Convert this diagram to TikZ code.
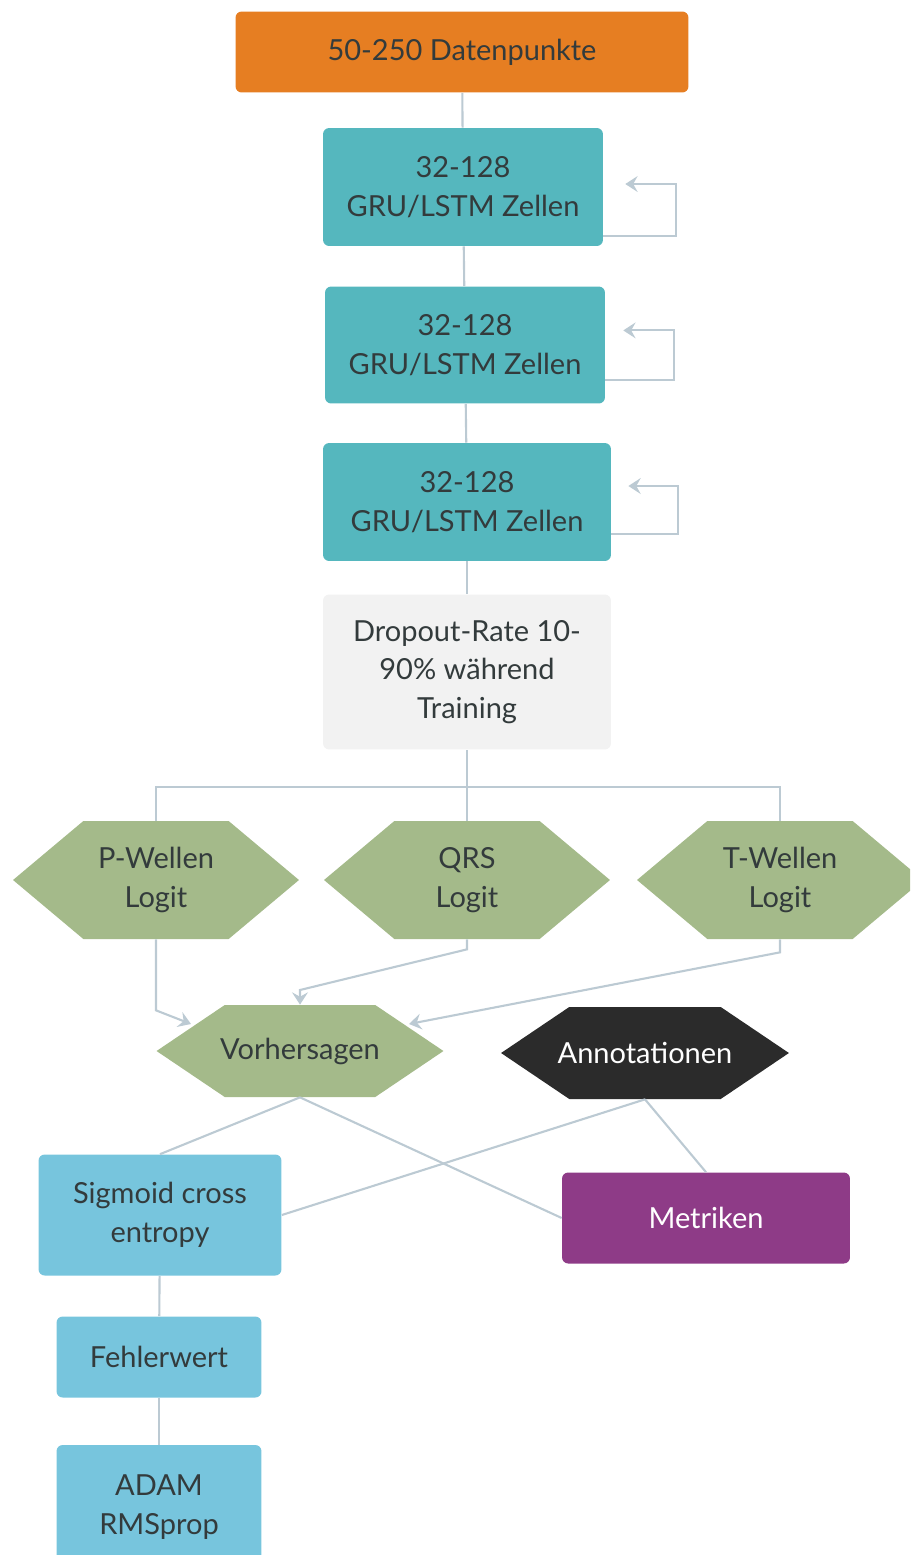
\documentclass[tikz,border=0pt]{standalone}
\usepackage{fontspec}
\setmainfont{Lato}
\usetikzlibrary{arrows.meta,shapes.symbols}
\definecolor{inkbox}{HTML}{333B3C}
\definecolor{wire}{HTML}{BCCAD3}
\definecolor{orangebox}{HTML}{E67E22}
\definecolor{tealbox}{HTML}{55B7BE}
\definecolor{greybox}{HTML}{F2F2F2}
\definecolor{leaf}{HTML}{A4BA8A}
\definecolor{coal}{HTML}{2B2B2B}
\definecolor{skybox}{HTML}{77C5DD}
\definecolor{plum}{HTML}{8E3B87}

\begin{document}
\begin{tikzpicture}[x=0.02cm,y=-0.02cm,>={Stealth[length=7pt,width=9pt,inset=2.5pt]},
 every node/.style={font=\fontsize{16.5}{22}\selectfont,text=inkbox,align=center,inner sep=0pt},
 box/.style={rounded corners=3.5pt},
 hexa/.style={signal,signal to=east and west,fill=leaf,signal pointer angle=80},
 link/.style={draw=wire,line width=1.2pt}]
\clip (0,0) rectangle (910,1555);
% layers
\node[box,fill=orangebox,minimum width=9.06cm,minimum height=1.62cm] (data) at (462,52) {50-250 Datenpunkte};
\node[box,fill=tealbox,minimum width=5.6cm,minimum height=2.36cm] (gru1) at (463,187) {32-128\\GRU/LSTM Zellen};
\node[box,fill=tealbox,minimum width=5.6cm,minimum height=2.34cm] (gru2) at (465,345) {32-128\\GRU/LSTM Zellen};
\node[box,fill=tealbox,minimum width=5.76cm,minimum height=2.36cm] (gru3) at (467,502) {32-128\\GRU/LSTM Zellen};
\node[box,fill=greybox,minimum width=5.76cm,minimum height=3.1cm] (drop) at (467,672) {Dropout-Rate 10-\\90\% während\\Training};
% logits
\node[hexa,minimum width=5.72cm,minimum height=2.36cm] (pw) at (156,880) {P-Wellen\\Logit};
\node[hexa,minimum width=5.72cm,minimum height=2.36cm] (qrs) at (467,880) {QRS\\Logit};
\node[hexa,minimum width=5.72cm,minimum height=2.36cm] (tw) at (780,880) {T-Wellen\\Logit};
\node[hexa,signal pointer angle=68,inner xsep=-2.6pt,minimum width=5.72cm,minimum height=1.84cm] (vh) at (300,1051) {Vorhersagen};
\node[hexa,fill=coal,text=white,signal pointer angle=68,inner xsep=-6.6pt,minimum width=5.74cm,minimum height=1.84cm] (an) at (645,1053) {Annotationen};
% loss
\node[box,fill=skybox,minimum width=4.86cm,minimum height=2.42cm] (sig) at (160,1215) {Sigmoid cross\\entropy};
\node[box,fill=plum,text=white,minimum width=5.76cm,minimum height=1.82cm] (met) at (706,1218) {Metriken};
\node[box,fill=skybox,minimum width=4.1cm,minimum height=1.62cm] (feh) at (159,1357) {Fehlerwert};
\node[box,fill=skybox,minimum width=4.1cm,minimum height=2.48cm] (adam) at (159,1507) {ADAM\\RMSprop};
\coordinate (vhl) at (191,1024);
\coordinate (vhr) at (409,1024);

\draw[link] (data) -- (gru1);
\draw[link] (gru1) -- (gru2);
\draw[link] (gru2) -- (gru3);
\draw[link] (gru3) -- (drop);
\foreach \n/\lo/\w/\hi/\gap in {gru1/5.7/73/1.7/12.5,gru2/13.7/69/8.3/10.2,gru3/15.4/67/9.1/9.7}
{\draw[link,->] ([yshift=\lo pt]\n.south east) -- ++(\w,0) |- ([xshift=\gap pt,yshift=\hi pt]\n.east);}
\draw[link] (drop.south) -- ++(0,37) coordinate (split);
\draw[link] (pw.north) |- (split) -| (tw.north);
\draw[link] (split) -- (qrs.north);
\draw[link,->] (pw.south) -- ++(0,71) -- (vhl);
\draw[link,->] (qrs.south) -- ++(0,10) -- (300,990) -- (vh.north);
\draw[link,->] (tw.south) -- ++(0,13) -- (vhr);
\draw[link] (vh.south) -- (sig.north);
\draw[link] (vh.south) -- (met.west);
\draw[link] (an.south) -- (sig.east);
\draw[link] (an.south) -- (met.north);
\draw[link] (sig) -- (feh);
\draw[link] (feh) -- (adam);
\end{tikzpicture}
\end{document}
